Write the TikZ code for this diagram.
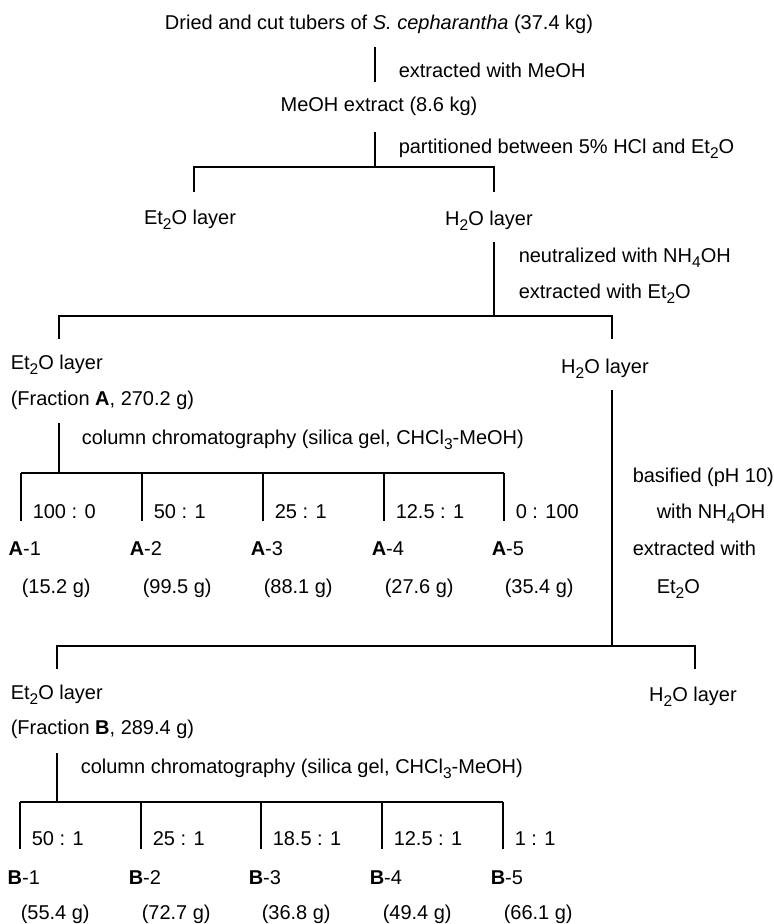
\documentclass[tikz,border=0pt]{standalone}
\usepackage{fontspec}
\setmainfont{Liberation Sans}
\usepackage{tikz}
\newcommand{\Sb}[1]{\raisebox{-5pt}{\fontsize{15.5}{16}\selectfont #1}}
\newcommand{\Et}{Et\Sb{2}O}
\newcommand{\Aq}{H\Sb{2}O}

\begin{document}
\begin{tikzpicture}[x=1pt,y=-1pt,line width=1.5pt,font=\fontsize{20}{24}\selectfont]
		\tikzstyle{txt}=[inner sep=0pt,text height=14pt,text depth=0pt]
		\tikzstyle{lbl}=[txt,anchor=west]
		\useasboundingbox (0,0) rectangle (774,924);
		\node[txt] (src) at (379,22) {Dried and cut tubers of \textit{S. cepharantha} (37.4 kg)};
		\coordinate (s1) at (375,47);
		\coordinate (s2) at (375,82);
		\draw (s1) -- (s2);
		\node[lbl] (op1) at (398,70) {extracted with MeOH};
		\node[txt] (meoh) at (379,104) {MeOH extract (8.6 kg)};
		\coordinate (s3) at (375,132);
		\coordinate (s4) at (375,167);
		\draw (s3) -- (s4);
		\node[lbl] (op2) at (398,146) {partitioned between 5\% HCl and \Et};
		\coordinate (l1) at (194,192);
		\coordinate (r1) at (494,167);
		\coordinate (r1b) at (494,192);
		\draw (l1) |- (r1) -- (r1b);
		\node[txt] (et1) at (190,217) {\Et\ layer};
		\node[txt] (aq1) at (489,218) {\Aq\ layer};
		\coordinate (s5) at (494,242);
		\coordinate (s6) at (494,316);
		\draw (s5) -- (s6);
		\node[lbl] (op3) at (518,255) {neutralized with NH\Sb{4}OH};
		\node[lbl] (op4) at (518,291) {extracted with \Et};
		\coordinate (l2) at (59,339);
		\coordinate (r2) at (612,316);
		\coordinate (r2b) at (612,339);
		\draw (l2) |- (r2) -- (r2b);
		\node[lbl] (et2) at (10,362) {\Et\ layer};
		\node[lbl] (fra) at (10,398) {(Fraction \textbf{A}, 270.2 g)};
		\node[txt] (aq2) at (605,366) {\Aq\ layer};
		\coordinate (s7) at (59,423);
		\coordinate (s8) at (59,473);
		\draw (s7) -- (s8);
		\node[lbl] (op5) at (81,437) {column chromatography (silica gel, CHCl\Sb{3}-MeOH)};
		\foreach \x/\r/\m [count=\i] in {21/100 : 0/15.2, 142/50 : 1/99.5, 263/25 : 1/88.1, 384/12.5 : 1/27.6, 504/0 : 100/35.4}{
			\coordinate (ta\i) at (\x,473);
			\coordinate (ba\i) at (\x,521);
			\draw (ta\i) -- (ba\i);
			\node[lbl] (ra\i) at (\x+11,511) {\r};
			\node[lbl] (fa\i) at (\x-13,548) {\textbf{A}-\i};
			\node[lbl] (ma\i) at (\x,586) {(\m\ g)};
		}
		\draw (ta1) -- (ta5);
		\coordinate (s9) at (612,390);
		\coordinate (s10) at (612,646);
		\draw (s9) -- (s10);
		\node[lbl] (op6) at (632,475) {basified (pH 10)};
		\node[lbl] (op7) at (656,511) {with NH\Sb{4}OH};
		\node[lbl] (op8) at (632,548) {extracted with};
		\node[lbl] (op9) at (656,586) {\Et};
		\coordinate (l3) at (57,669);
		\coordinate (r3) at (695,646);
		\coordinate (r3b) at (695,669);
		\draw (l3) |- (r3) -- (r3b);
		\node[lbl] (et3) at (10,692) {\Et\ layer};
		\node[txt] (aq3) at (693,694) {\Aq\ layer};
		\node[lbl] (frb) at (10,727) {(Fraction \textbf{B}, 289.4 g)};
		\coordinate (s11) at (57,753);
		\coordinate (s12) at (57,802);
		\draw (s11) -- (s12);
		\node[lbl] (op10) at (80,766) {column chromatography (silica gel, CHCl\Sb{3}-MeOH)};
		\foreach \x/\r/\m [count=\i] in {20/50 : 1/55.4, 141/25 : 1/72.7, 261/18.5 : 1/36.8, 382/12.5 : 1/49.4, 503/1 : 1/66.1}{
			\coordinate (tb\i) at (\x,802);
			\coordinate (bb\i) at (\x,849);
			\draw (tb\i) -- (bb\i);
			\node[lbl] (rb\i) at (\x+11,838) {\r};
			\node[lbl] (fb\i) at (\x-13,877) {\textbf{B}-\i};
			\node[lbl] (mb\i) at (\x,912) {(\m\ g)};
		}
		\draw (tb1) -- (tb5);
\end{tikzpicture}
\end{document}
